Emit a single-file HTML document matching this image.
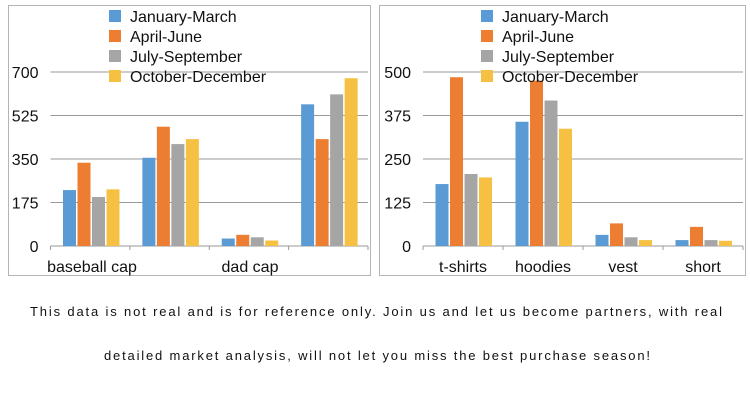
<!DOCTYPE html>
<html><head><meta charset="utf-8"><style>
html,body{margin:0;padding:0;background:#fff;width:750px;height:400px;overflow:hidden}
svg{display:block;font-family:"Liberation Sans",Arial,sans-serif}
</style></head><body>
<svg id="s" width="750" height="400" viewBox="0 0 750 400" xmlns="http://www.w3.org/2000/svg">
<rect x="8.5" y="5.5" width="362" height="270" fill="#fff" stroke="#b4b4b4"/>
<rect x="379.5" y="5.5" width="366" height="270" fill="#fff" stroke="#b4b4b4"/>
<g id="g"></g>
<text x="376" y="316" font-size="13" fill="#111" text-anchor="middle" textLength="692" lengthAdjust="spacing">This data is not real and is for reference only. Join us and let us become partners, with real</text>
<text x="377" y="360" font-size="13" fill="#111" text-anchor="middle" textLength="546" lengthAdjust="spacing">detailed market analysis, will not let you miss the best purchase season!</text>
</svg>
<script>
var C=["#5b9bd5","#ed7d31","#a5a5a5","#f6c143"];
var L=["January-March","April-June","July-September","October-December"];
var g=document.getElementById("g"),h="";
function chart(x0,x1,max,ticks,cats,vals,lx){
  var top=72,bot=246,step=(x1-x0)/4;
  ticks.forEach(function(t,i){var y=bot-(bot-top)*i/(ticks.length-1);
    h+='<line x1="'+x0+'" x2="'+x1+'" y1="'+y+'" y2="'+y+'" stroke="#9a9a9a" stroke-width="1"/>';
    h+='<text x="'+(x0-12)+'" y="'+(y+6)+'" font-size="16" text-anchor="end" fill="#111">'+t+'</text>';});
  for(var i=0;i<=4;i++){var tx=x0+step*i;h+='<line x1="'+tx+'" x2="'+tx+'" y1="'+bot+'" y2="'+(bot+4)+'" stroke="#9a9a9a"/>';}
  vals.forEach(function(v,gi){v.forEach(function(val,k){var bh=(bot-top)*val/max;var bx=x0+step*gi+12.5+k*14.5;
    h+='<rect x="'+bx+'" y="'+(bot-bh)+'" width="13" height="'+bh+'" fill="'+C[k]+'"/>';});});
  cats.forEach(function(c){h+='<text x="'+c[1]+'" y="272" font-size="16" text-anchor="middle" fill="#111">'+c[0]+'</text>';});
  L.forEach(function(l,k){var y=16+k*20;h+='<rect x="'+lx+'" y="'+(y-6)+'" width="12" height="12" fill="'+C[k]+'"/>';
    h+='<text x="'+(lx+21)+'" y="'+(y+6)+'" font-size="16" fill="#111">'+l+'</text>';});
}
chart(50.5,368,700,[0,175,350,525,700],[["baseball cap",92],["dad cap",250]],
 [[225,335,197,228],[355,480,410,430],[30,45,35,22],[570,430,610,675]],109);
chart(423,743,500,[0,125,250,375,500],[["t-shirts",463],["hoodies",543],["vest",623],["short",703]],
 [[178,485,207,197],[357,475,418,337],[32,65,25,17],[17,55,17,15]],481);
g.innerHTML=h;
</script>
</body></html>
